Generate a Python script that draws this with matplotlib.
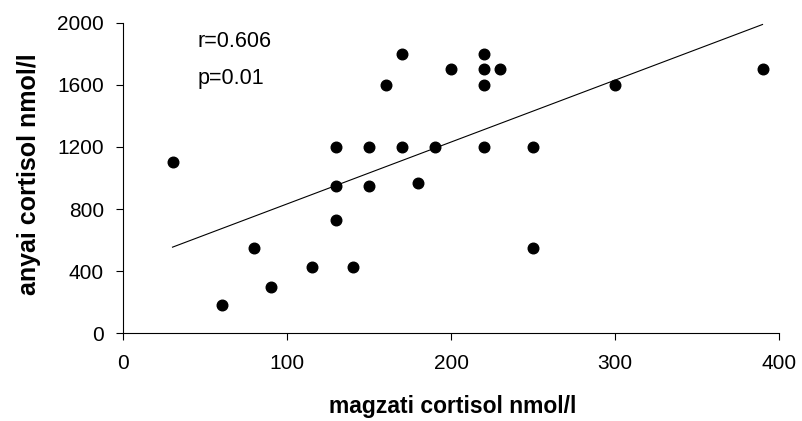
import numpy as np
import matplotlib
matplotlib.use("Agg")
import matplotlib.pyplot as plt

plt.rcParams['font.family'] = ['Liberation Sans', 'DejaVu Sans']

# magzati (fetal) vs anyai (maternal) cortisol, nmol/l
magzati = [30, 60, 80, 90, 115, 130, 130, 130, 140, 150, 150, 160, 170, 170,
           180, 190, 200, 220, 220, 220, 220, 230, 250, 250, 300, 390]
anyai = [1100, 180, 550, 300, 430, 1200, 950, 730, 430, 1200, 950, 1600, 1800, 1200,
         970, 1200, 1700, 1800, 1700, 1600, 1200, 1700, 1200, 550, 1600, 1700]

x_ticks = [0, 100, 200, 300, 400]
y_ticks = [0, 400, 800, 1200, 1600, 2000]
stats_text = ["r=0.606", "p=0.01"]

x = np.array(magzati)
y = np.array(anyai)
slope, intercept = np.polyfit(x, y, 1)
xl = np.array([x.min(), x.max()])

fig = plt.figure(figsize=(8.03, 4.21), dpi=100)
ax = fig.add_axes([0.1536, 0.2083, 0.8164, 0.7377])

ax.plot(xl, slope * xl + intercept, color='black', lw=0.8)
ax.scatter(x, y, s=58, color='black', zorder=3)

ax.set_xlim(0, 400)
ax.set_ylim(0, 2000)
ax.set_xticks(x_ticks)
ax.set_yticks(y_ticks)
ax.tick_params(direction='out', length=5, width=0.8, labelsize=15)
ax.tick_params(axis='y', pad=9)
ax.tick_params(axis='x', pad=10)
for s in ['top', 'right']:
    ax.spines[s].set_visible(False)
for s in ['left', 'bottom']:
    ax.spines[s].set_linewidth(0.8)

ax.set_xlabel("magzati cortisol nmol/l", fontsize=16.5, fontweight='bold')
ax.set_ylabel("anyai cortisol nmol/l", fontsize=18, fontweight='bold')
ax.xaxis.set_label_coords(0.502, -0.2)
ax.yaxis.set_label_coords(-0.126, 0.513)

ax.text(45, 1880, stats_text[0], fontsize=15.5, va='center')
ax.text(45, 1640, stats_text[1], fontsize=15.5, va='center')

fig.savefig("out.png", dpi=100)
